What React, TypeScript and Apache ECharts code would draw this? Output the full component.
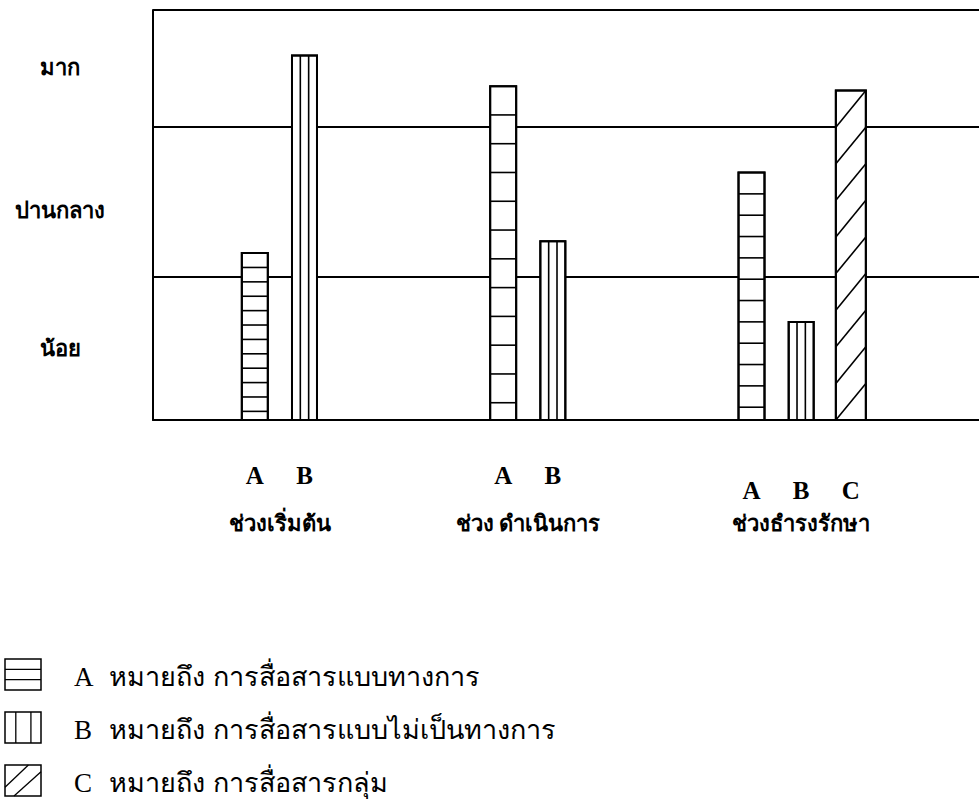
import React, { useEffect, useRef } from "react";
import * as echarts from "echarts";

// ---- data ----
const groups = ["ช่วงเริ่มต้น", "ช่วง ดำเนินการ", "ช่วงธำรงรักษา"];
const typeCodes = ["A", "B", "C"];
const typeMeanings = [
  "การสื่อสารแบบทางการ",
  "การสื่อสารแบบไม่เป็นทางการ",
  "การสื่อสารกลุ่ม",
];
const meansWord = "หมายถึง";
const levelLabels = ["น้อย", "ปานกลาง", "มาก"];
const levelLabelValues = [0.49, 1.43, 2.41];
const levelBounds = [0, 0.98, 2.0, 2.8];
const valuesA = [1.14, 2.28, 1.69];
const valuesB = [2.49, 1.22, 0.67];
const valuesC: (number | null)[] = [null, null, 2.25];

const FONT =
  "'Liberation Serif', 'Times New Roman', 'Kinnari', 'Norasi', 'Laksaman', 'DejaVu Serif', serif";

export default function App() {
  const ref = useRef<HTMLDivElement>(null);

  useEffect(() => {
    const chart = echarts.init(ref.current!, null, { renderer: "svg" });

    const seriesValues = [valuesA, valuesB, valuesC];
    const GROUP_GAP = 3;
    const bars: number[][] = [];
    const groupCenters: number[] = [];
    let slot = 0;
    groups.forEach((_, g) => {
      const first = slot;
      seriesValues.forEach((vals, t) => {
        const v = vals[g];
        if (v == null) return;
        bars.push([slot, v, t, g]);
        slot += 1;
      });
      groupCenters.push((first + slot - 1) / 2);
      slot += GROUP_GAP;
    });

    const splitValues = levelBounds.slice(1);

    const BAR_W = [26, 25, 30];
    const inner = { stroke: "#000", lineWidth: 1.6 };

    const renderItem = (params: any, api: any) => {
      const s = api.value(0);
      const v = api.value(1);
      const t = api.value(2);
      const g = api.value(3);
      const topPt = api.coord([s, v]);
      const basePt = api.coord([s, 0]);
      const w = BAR_W[t];
      const x0 = topPt[0] - w / 2;
      const x1 = x0 + w;
      const y0 = topPt[1];
      const yb = basePt[1];
      const h = yb - y0;
      const children: any[] = [
        {
          type: "rect",
          shape: { x: x0, y: y0, width: w, height: h },
          style: { fill: "#fff", stroke: "#000", lineWidth: 2 },
        },
      ];
      if (t === 0) {
        const n = 11.6;
        for (let i = 1; i < n; i++) {
          const y = y0 + (i * h) / n;
          children.push({ type: "line", shape: { x1: x0, y1: y, x2: x1, y2: y }, style: inner });
        }
      } else if (t === 1) {
        for (let i = 1; i < 3; i++) {
          const x = x0 + (i * w) / 3;
          children.push({ type: "line", shape: { x1: x, y1: y0, x2: x, y2: yb }, style: inner });
        }
      } else {
        const k = Math.max(1, Math.round(h / 36));
        const step = h / k;
        for (let i = 0; i < k; i++) {
          const yl = yb - i * step;
          children.push({ type: "line", shape: { x1: x0, y1: yl, x2: x1, y2: yl - step }, style: inner });
        }
      }
      children.push({
        type: "rect",
        shape: { x: x0, y: y0, width: w, height: h },
        style: { fill: "none", stroke: "#000", lineWidth: 2 },
      });
      children.push({
        type: "text",
        style: {
          text: typeCodes[t],
          x: topPt[0],
          y: yb + (g === groups.length - 1 ? 70 : 55),
          align: "center",
          verticalAlign: "middle",
          font: `bold 25px ${FONT}`,
          fill: "#000",
        },
      });
      return { type: "group", children };
    };

    // legend drawn with graphic
    const legend = typeCodes.map((code, t) => {
      const W = 36;
      const H = 31;
      const icon: any[] = [
        { type: "rect", shape: { x: 0, y: 0, width: W, height: H }, style: { fill: "#fff", stroke: "#000", lineWidth: 1.5 } },
      ];
      const ls = { stroke: "#000", lineWidth: 1.3 };
      if (t === 0) {
        icon.push({ type: "line", shape: { x1: 0, y1: H / 3, x2: W, y2: H / 3 }, style: ls });
        icon.push({ type: "line", shape: { x1: 0, y1: (2 * H) / 3, x2: W, y2: (2 * H) / 3 }, style: ls });
      } else if (t === 1) {
        icon.push({ type: "line", shape: { x1: W * 0.3, y1: 0, x2: W * 0.3, y2: H }, style: ls });
        icon.push({ type: "line", shape: { x1: W * 0.72, y1: 0, x2: W * 0.72, y2: H }, style: ls });
      } else {
        icon.push({ type: "line", shape: { x1: 0, y1: H * 0.72, x2: W * 0.65, y2: 0 }, style: ls });
        icon.push({ type: "line", shape: { x1: W * 0.25, y1: H, x2: W, y2: H * 0.22 }, style: ls });
      }
      const ty = H / 2 + 2;
      const txt = (text: string, x: number) => ({
        type: "text",
        x,
        y: ty,
        style: { text, font: `27px ${FONT}`, fill: "#000", verticalAlign: "middle" },
      });
      return {
        type: "group",
        x: 5,
        y: 659 + t * 53,
        children: [...icon, txt(code, 69), txt(meansWord, 104), txt(typeMeanings[t], 208)],
      };
    });

    chart.setOption({
      animation: false,
      backgroundColor: "#fff",
      grid: { left: 153, top: 10, right: 0, bottom: 384 },
      xAxis: {
        type: "value",
        min: -2.05,
        max: 14.58,
        axisLine: { show: true, onZero: false, lineStyle: { color: "#000", width: 2 } },
        axisTick: { show: false },
        splitLine: { show: false },
        axisLabel: {
          customValues: groupCenters,
          formatter: (v: number) => {
            const i = groupCenters.findIndex((c) => Math.abs(c - v) < 1e-6);
            return i >= 0 ? groups[i] : "";
          },
          margin: 92,
          color: "#000",
          fontSize: 22,
          fontWeight: "bold",
          fontFamily: FONT,
        },
      },
      yAxis: {
        type: "value",
        min: 0,
        max: levelBounds[levelBounds.length - 1],
        axisLine: { show: true, onZero: false, lineStyle: { color: "#000", width: 2 } },
        axisTick: { show: false, customValues: splitValues },
        splitLine: { show: true, lineStyle: { color: "#000", width: 2 } },
        axisLabel: {
          customValues: levelLabelValues,
          formatter: (v: number) => {
            let best = 0;
            levelLabelValues.forEach((m, i) => {
              if (Math.abs(m - v) < Math.abs(levelLabelValues[best] - v)) best = i;
            });
            return levelLabels[best];
          },
          align: "center",
          margin: 93,
          color: "#000",
          fontSize: 22,
          fontWeight: "bold",
          fontFamily: FONT,
        },
      },
      series: [
        {
          type: "custom",
          renderItem,
          encode: { x: 0, y: 1 },
          clip: false,
          data: bars,
          z: 5,
        },
      ],
      graphic: legend,
    });

    return () => chart.dispose();
  }, []);

  return (
    <div
      ref={ref}
      style={{ position: "absolute", left: 0, top: 0, width: 979, height: 804 }}
    />
  );
}
